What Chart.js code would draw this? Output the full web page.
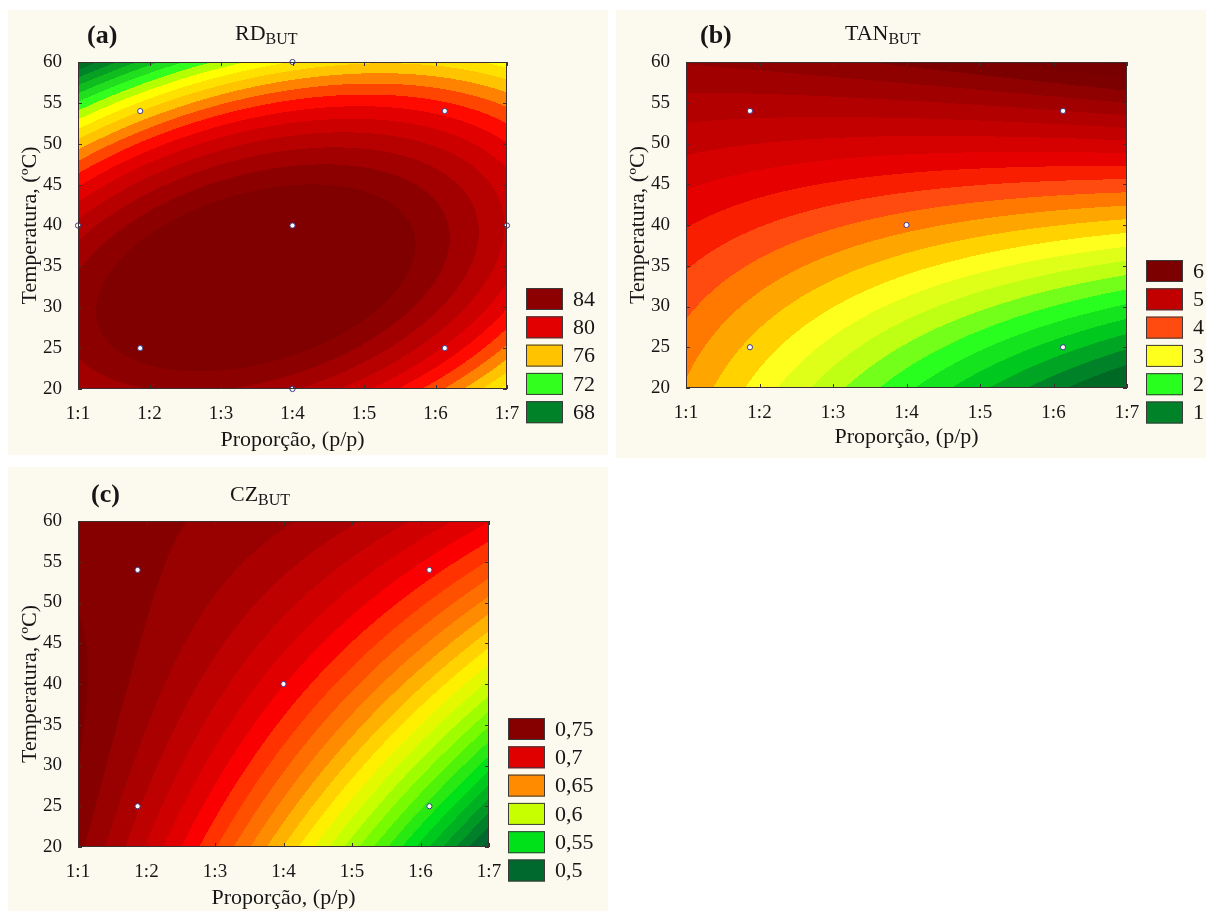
<!DOCTYPE html>
<html>
<head>
<meta charset="utf-8">
<script src="https://cdn.jsdelivr.net/npm/chart.js@4.4.1/dist/chart.umd.min.js"></script>
<style>
body { margin: 0; background: #fff; width: 1206px; height: 911px; position: relative; overflow: hidden; }
.panel { position: absolute; background: #fcf9ef; }
canvas { display: block; }
</style>
</head>
<body>
<div class="panel" style="left:8px;top:10px;width:600px;height:445px"><canvas id="chartRD" width="600" height="445"></canvas></div>
<div class="panel" style="left:616px;top:10px;width:590px;height:448px"><canvas id="chartTAN" width="590" height="448"></canvas></div>
<div class="panel" style="left:8px;top:467px;width:600px;height:444px"><canvas id="chartCZ" width="600" height="444"></canvas></div>
<script>
// grid: columns = proportion 1:x, rows = temperature
const proportion = [1, 2, 3, 4, 5, 6, 7];
const temperature = [20, 30, 40, 50, 60];

const rdValues = [
    [82.8, 84.0, 84.2, 83.4, 81.5, 78.3, 74.3],
    [84.4, 86.0, 86.7, 86.5, 85.3, 83.2, 80.0],
    [82.6, 84.8, 86.1, 86.5, 86.0, 84.5, 82.0],
    [76.6, 79.0, 81.3, 82.5, 82.7, 81.9, 80.1],
    [67.0, 70.6, 73.3, 75.0, 75.8, 75.6, 74.5]
];
const tanValues = [
    [3.9, 3.1, 2.6, 2.0, 1.6, 1.2, 0.85],
    [4.2, 3.6, 3.1, 2.7, 2.35, 2.05, 1.8],
    [4.45, 4.2, 4.0, 3.8, 3.6, 3.45, 3.3],
    [5.0, 5.05, 5.1, 5.15, 5.2, 5.25, 5.3],
    [5.65, 5.85, 6.0, 6.1, 6.15, 6.2, 6.25]
];
const czValues = [
    [0.752, 0.72, 0.685, 0.642, 0.595, 0.545, 0.49],
    [0.758, 0.734, 0.705, 0.672, 0.636, 0.597, 0.555],
    [0.76, 0.745, 0.724, 0.70, 0.673, 0.643, 0.61],
    [0.76, 0.751, 0.738, 0.723, 0.705, 0.683, 0.658],
    [0.755, 0.752, 0.747, 0.74, 0.73, 0.717, 0.70]
];

// experimental points
const designX = [1.87, 6.13, 1.87, 6.13, 4];
const designY = [54, 54, 25, 25, 40];
const axialX = [1, 7, 4, 4];
const axialY = [40, 40, 60, 20];

const rdLegend = [84, 80, 76, 72, 68];
const tanLegend = [6, 5, 4, 3, 2, 1];
const czLegend = [0.75, 0.7, 0.65, 0.6, 0.55, 0.5];

Chart.defaults.font.family = "'Liberation Serif', 'Times New Roman', serif";
Chart.defaults.color = '#161616';

// second-order response surface fitted (least squares) to the read grid
function basis(x, y) {
    var u = (x - 4) / 3, t = (y - 40) / 20;
    return [1, u, t, u * u, t * t, u * t];
}

function fitSurface(g) {
    var n = 6, A = [], b = [];
    for (var r = 0; r < n; r++) { A.push([0, 0, 0, 0, 0, 0]); b.push(0); }
    temperature.forEach(function (y, j) {
        proportion.forEach(function (x, i) {
            var f = basis(x, y);
            for (var r = 0; r < n; r++) {
                b[r] += f[r] * g[j][i];
                for (var c = 0; c < n; c++) A[r][c] += f[r] * f[c];
            }
        });
    });
    for (var k = 0; k < n; k++) {
        var piv = k;
        for (var r2 = k + 1; r2 < n; r2++) if (Math.abs(A[r2][k]) > Math.abs(A[piv][k])) piv = r2;
        var tmp = A[k]; A[k] = A[piv]; A[piv] = tmp;
        var tb = b[k]; b[k] = b[piv]; b[piv] = tb;
        for (var r3 = k + 1; r3 < n; r3++) {
            var m = A[r3][k] / A[k][k];
            for (var c2 = k; c2 < n; c2++) A[r3][c2] -= m * A[k][c2];
            b[r3] -= m * b[k];
        }
    }
    var coef = [0, 0, 0, 0, 0, 0];
    for (var k2 = n - 1; k2 >= 0; k2--) {
        var s = b[k2];
        for (var c3 = k2 + 1; c3 < n; c3++) s -= A[k2][c3] * coef[c3];
        coef[k2] = s / A[k2][k2];
    }
    return coef;
}

function surface(coef, x, y) {
    var f = basis(x, y), v = 0;
    for (var k = 0; k < 6; k++) v += coef[k] * f[k];
    return v;
}

function colourAt(stops, v) {
    if (v <= stops[0][0]) return stops[0][1];
    for (var k = 1; k < stops.length; k++) {
        if (v <= stops[k][0]) {
            var a = stops[k - 1], b = stops[k];
            var t = (v - a[0]) / (b[0] - a[0]);
            return [0, 1, 2].map(function (n) { return Math.round(a[1][n] + (b[1][n] - a[1][n]) * t); });
        }
    }
    return stops[stops.length - 1][1];
}

var panels = {
    chartRD: {
        coef: fitSurface(rdValues), step: 1, legend: rdLegend,
        stops: [[67, [0, 110, 35]], [68, [0, 130, 40]], [70, [15, 190, 30]], [72, [50, 255, 30]], [73, [180, 255, 0]],
                [74, [255, 255, 0]], [75, [255, 225, 0]], [76, [255, 195, 0]], [77, [255, 130, 0]], [78, [255, 70, 0]],
                [79, [255, 10, 0]], [80, [226, 0, 0]], [84, [140, 0, 0]], [85, [128, 0, 0]]],
        letter: '(a)', letterX: 79, letterY: 33, name: 'RD', nameX: 227, nameY: 30,
        legendX: 518, legendY: 278
    },
    chartTAN: {
        coef: fitSurface(tanValues), step: 0.25, legend: tanLegend,
        stops: [[0.75, [0, 105, 35]], [1, [0, 130, 40]], [1.5, [0, 200, 30]], [2, [40, 255, 30]], [2.5, [190, 255, 20]],
                [3, [255, 255, 30]], [3.25, [255, 210, 0]], [3.5, [255, 165, 0]], [3.75, [255, 120, 0]], [4, [255, 75, 15]],
                [4.25, [250, 30, 0]], [4.5, [230, 0, 0]], [5, [195, 0, 0]], [6, [125, 0, 0]], [6.5, [115, 0, 0]]],
        letter: '(b)', letterX: 84, letterY: 33, name: 'TAN', nameX: 229, nameY: 30,
        legendX: 530, legendY: 250
    },
    chartCZ: {
        coef: fitSurface(czValues), step: 0.01, legend: czLegend,
        stops: [[0.48, [0, 90, 40]], [0.5, [0, 105, 45]], [0.55, [0, 225, 25]], [0.58, [120, 250, 0]], [0.6, [200, 255, 0]],
                [0.62, [255, 240, 0]], [0.635, [255, 195, 0]], [0.65, [255, 140, 0]], [0.68, [255, 50, 0]], [0.69, [250, 0, 0]],
                [0.7, [225, 0, 0]], [0.75, [135, 0, 0]], [0.76, [122, 0, 0]]],
        letter: '(c)', letterX: 83, letterY: 35, name: 'CZ', nameX: 222, nameY: 34,
        legendX: 500, legendY: 251
    }
};

var contourPlugin = {
    id: 'contour',
    beforeDatasetsDraw: function (chart) {
        var p = panels[chart.canvas.id];
        var area = chart.chartArea, xs = chart.scales.x, ys = chart.scales.y;
        var w = Math.round(area.right - area.left), h = Math.round(area.bottom - area.top);
        var off = document.createElement('canvas');
        off.width = w; off.height = h;
        var octx = off.getContext('2d');
        var img = octx.createImageData(w, h);
        for (var py = 0; py < h; py++) {
            var yv = ys.getValueForPixel(area.top + py + 0.5);
            for (var px = 0; px < w; px++) {
                var xv = xs.getValueForPixel(area.left + px + 0.5);
                var v = surface(p.coef, xv, yv);
                var lvl = Math.floor(v / p.step + 1e-9) * p.step;
                var c = colourAt(p.stops, lvl);
                var o = (py * w + px) * 4;
                img.data[o] = c[0]; img.data[o + 1] = c[1]; img.data[o + 2] = c[2]; img.data[o + 3] = 255;
            }
        }
        octx.putImageData(img, 0, 0);
        chart.ctx.drawImage(off, area.left, area.top);
    },
    afterDraw: function (chart) {
        var p = panels[chart.canvas.id];
        var ctx = chart.ctx, area = chart.chartArea;
        ctx.save();
        // frame and inner ticks
        ctx.strokeStyle = '#3c3030';
        ctx.lineWidth = 1;
        ctx.strokeRect(area.left + 0.5, area.top + 0.5, area.right - area.left - 1, area.bottom - area.top - 1);
        ctx.beginPath();
        chart.scales.x.ticks.forEach(function (t) {
            var x = Math.round(chart.scales.x.getPixelForValue(t.value)) + 0.5;
            ctx.moveTo(x, area.bottom); ctx.lineTo(x, area.bottom - 4);
            ctx.moveTo(x, area.top); ctx.lineTo(x, area.top + 4);
        });
        chart.scales.y.ticks.forEach(function (t) {
            var y = Math.round(chart.scales.y.getPixelForValue(t.value)) + 0.5;
            ctx.moveTo(area.left, y); ctx.lineTo(area.left + 4, y);
            ctx.moveTo(area.right, y); ctx.lineTo(area.right - 4, y);
        });
        ctx.stroke();

        // panel letter and response name with subscript
        ctx.fillStyle = '#161616';
        ctx.textBaseline = 'alphabetic';
        ctx.textAlign = 'left';
        ctx.font = "bold 26px 'Liberation Serif'";
        ctx.fillText(p.letter, p.letterX, p.letterY);
        ctx.font = "22px 'Liberation Serif'";
        ctx.fillText(p.name, p.nameX, p.nameY);
        var nw = ctx.measureText(p.name).width;
        ctx.font = "16px 'Liberation Serif'";
        ctx.fillText('BUT', p.nameX + nw, p.nameY + 4);

        // legend
        ctx.font = "22px 'Liberation Serif'";
        ctx.textBaseline = 'middle';
        p.legend.forEach(function (v, i) {
            var y = p.legendY + i * 28.3;
            var c = colourAt(p.stops, v);
            ctx.fillStyle = 'rgb(' + c.join(',') + ')';
            ctx.fillRect(p.legendX, y, 37, 22);
            ctx.strokeStyle = '#3a3a3a';
            ctx.strokeRect(p.legendX + 0.5, y + 0.5, 36, 21);
            ctx.fillStyle = '#161616';
            ctx.fillText(String(v).replace('.', ','), p.legendX + 47, y + 12);
        });
        ctx.restore();
    }
};

function makePoints(xs, ys) {
    return xs.map(function (x, i) { return { x: x, y: ys[i] }; });
}

function makeChart(id, pts, box) {
    return new Chart(document.getElementById(id), {
        type: 'scatter',
        data: {
            datasets: [{
                data: pts,
                pointRadius: 2.6,
                pointBackgroundColor: '#ffffff',
                pointBorderColor: '#3a3a8a',
                pointBorderWidth: 1,
                clip: false
            }]
        },
        options: {
            responsive: false,
            animation: false,
            events: [],
            layout: { padding: { left: 0, top: box.top, right: box.right, bottom: 0 } },
            plugins: { legend: { display: false }, tooltip: { enabled: false } },
            scales: {
                x: {
                    type: 'linear', min: 1, max: 7,
                    afterFit: function (s) { s.height = box.xh; },
                    grid: { display: false }, border: { display: false },
                    ticks: {
                        stepSize: 1, padding: 6, font: { size: 19 },
                        callback: function (v) { return '1:' + v; }
                    },
                    title: { display: true, text: 'Proporção, (p/p)', font: { size: 22 }, padding: { top: 0, bottom: box.tb } }
                },
                y: {
                    type: 'linear', min: 20, max: 60,
                    afterFit: function (s) { s.width = 70; },
                    grid: { display: false }, border: { display: false },
                    ticks: { stepSize: 5, padding: 8, font: { size: 19 } },
                    title: { display: true, text: 'Temperatura, (ºC)', font: { size: 22 }, padding: { top: 9, bottom: 0 } }
                }
            }
        },
        plugins: [contourPlugin]
    });
}

makeChart('chartRD', makePoints(designX.concat(axialX), designY.concat(axialY)), { top: 52, right: 101, xh: 66, tb: 2 });
makeChart('chartTAN', makePoints(designX, designY), { top: 52, right: 79, xh: 70, tb: 8 });
makeChart('chartCZ', makePoints(designX, designY), { top: 54, right: 119, xh: 64, tb: 0 });
</script>
</body>
</html>
